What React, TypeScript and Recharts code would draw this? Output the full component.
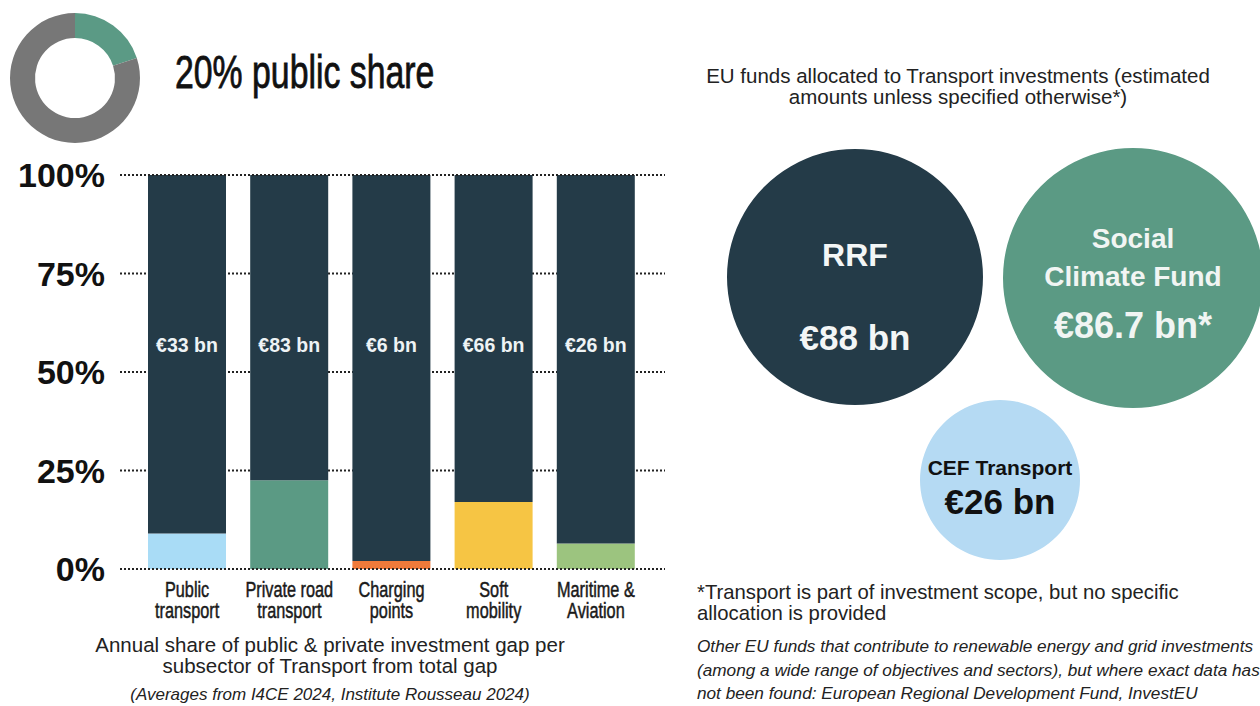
import React from 'react';
import { BarChart, Bar, XAxis, YAxis, CartesianGrid, ReferenceLine, LabelList, PieChart, Pie, Cell } from 'recharts';

const categories = ['Public transport', 'Private road transport', 'Charging points', 'Soft mobility', 'Maritime & Aviation'];
const categoryLines = [['Public', 'transport'], ['Private road', 'transport'], ['Charging', 'points'], ['Soft', 'mobility'], ['Maritime &', 'Aviation']];
const publicShare = [9, 22.5, 2, 17, 6.5];
const gapAmounts = ['€33 bn', '€83 bn', '€6 bn', '€66 bn', '€26 bn'];
const yTicks = [0, 25, 50, 75, 100];
const publicColors = ['#a9dcf6', '#5b9a84', '#ef7a3a', '#f6c544', '#9cc47f'];

const donutLabels = ['Public', 'Private'];
const donutValues = [20, 80];
const donutColors = ['#5b9a85', '#777777'];

const fundNames = [['RRF'], ['Social', 'Climate Fund'], ['CEF Transport']];
const fundAmounts = ['€88 bn', '€86.7 bn*', '€26 bn'];
const fundColors = ['#243b48', '#5b9a84', '#b5daf3'];

const DARK = '#243b48';
const SANS = '"Liberation Sans", Arial, sans-serif';

const barData = categories.map((c, i) => ({
  name: c,
  publicPart: publicShare[i],
  rest: 100 - publicShare[i],
  amount: gapAmounts[i],
}));

const donutData = donutLabels.map((n, i) => ({ name: n, value: donutValues[i] }));

const XTick = (props: any) => {
  const { x, y, index } = props;
  const lines = categoryLines[index] || [];
  return (
    <g transform={`translate(${x},${y}) scale(0.74,1)`}>
      <text x={0} y={0} textAnchor="middle" fill="#1a1a1a" stroke="#1a1a1a" strokeWidth={0.5} fontFamily={SANS} fontSize={22}>
        {lines.map((l, k) => (
          <tspan key={k} x={0} dy={k === 0 ? 20 : 21}>{l}</tspan>
        ))}
      </text>
    </g>
  );
};

const AmountLabel = (props: any) => {
  const { x, y, width, value } = props;
  return (
    <text x={x + width / 2} y={y + 170} textAnchor="middle" dominantBaseline="central" fill="#eef3f5" fontFamily={SANS} fontWeight={700} fontSize={19.5}>
      {value}
    </text>
  );
};

const fundLayouts = [
  { offsets: [-22], amountOffset: 60, nameSize: 32, amountSize: 35, color: '#f3f6f6' },
  { offsets: [-40, -2], amountOffset: 47, nameSize: 28, amountSize: 36, color: '#f1f5f3' },
  { offsets: [-13], amountOffset: 21, nameSize: 21, amountSize: 35, color: '#111111' },
];

const makeFundLabel = (fi: number) => (props: any) => {
  const { cx, cy } = props;
  const lay = fundLayouts[fi];
  return (
    <g>
      {fundNames[fi].map((n, k) => (
        <text key={k} x={cx} y={cy + lay.offsets[k]} textAnchor="middle" dominantBaseline="central" fill={lay.color} fontFamily={SANS} fontWeight={700} fontSize={lay.nameSize}>
          {n}
        </text>
      ))}
      <text x={cx} y={cy + lay.amountOffset} textAnchor="middle" dominantBaseline="central" fill={lay.color} fontFamily={SANS} fontWeight={700} fontSize={lay.amountSize}>
        {fundAmounts[fi]}
      </text>
    </g>
  );
};

const bubbleGeom = [
  { cx: 155, cy: 147, r: 128 },
  { cx: 433, cy: 148, r: 130 },
  { cx: 300, cy: 350, r: 80 },
];

export default function App() {
  return (
    <div style={{ position: 'absolute', left: 0, top: 0, width: 1260, height: 706, background: '#fff', overflow: 'hidden', fontFamily: SANS, color: '#222' }}>
      <div style={{ position: 'absolute', left: 0, top: 0 }}>
        <PieChart width={160} height={160} margin={{ top: 0, right: 0, bottom: 0, left: 0 }}>
          <Pie data={donutData} dataKey="value" cx={75} cy={78} innerRadius={40} outerRadius={65} startAngle={90} endAngle={-270} stroke="none" isAnimationActive={false}>
            {donutData.map((d, i) => <Cell key={i} fill={donutColors[i]} />)}
          </Pie>
        </PieChart>
      </div>
      <svg style={{ position: 'absolute', left: 160, top: 30 }} width={320} height={80}>
        <g transform="translate(15,58) scale(0.735,1)">
          <text x={0} y={0} fontFamily={SANS} fontSize={46} fill="#111" stroke="#111" strokeWidth={0.8}>20% public share</text>
        </g>
      </svg>

      <div style={{ position: 'absolute', left: 0, top: 0 }}>
        <BarChart width={680} height={640} data={barData} margin={{ top: 175, right: 15, bottom: 11, left: 10 }} barSize={78}>
          <CartesianGrid horizontal vertical={false} stroke="#222" strokeDasharray="2 2" strokeWidth={2} />
          <XAxis dataKey="name" axisLine={false} tickLine={false} height={60} interval={0} padding={{ left: 16, right: 18 }} tick={<XTick />} />
          <YAxis domain={[0, 100]} ticks={yTicks} tickFormatter={(v: number) => `${v}%`} axisLine={false} tickLine={false} tickSize={0} tickMargin={15} width={110} tick={{ fontSize: 34, fontWeight: 700, fill: '#111', fontFamily: SANS }} />
          <Bar dataKey="publicPart" stackId="a" isAnimationActive={false}>
            {barData.map((d, i) => <Cell key={i} fill={publicColors[i]} />)}
          </Bar>
          <Bar dataKey="rest" stackId="a" fill={DARK} isAnimationActive={false}>
            <LabelList dataKey="amount" content={<AmountLabel />} />
          </Bar>
          <ReferenceLine y={0} stroke="#222" strokeDasharray="2 2" strokeWidth={2} />
          <ReferenceLine y={100} stroke="#222" strokeDasharray="2 2" strokeWidth={2} />
        </BarChart>
      </div>

      <div style={{ position: 'absolute', left: 30, top: 634, width: 600, textAlign: 'center', fontSize: 20.5, lineHeight: '21px', color: '#222', whiteSpace: 'nowrap' }}>
        Annual share of public &amp; private investment gap per<br />subsector of Transport from total gap
      </div>
      <div style={{ position: 'absolute', left: 30, top: 685, width: 600, textAlign: 'center', fontSize: 17, lineHeight: '19px', fontStyle: 'italic', color: '#222', whiteSpace: 'nowrap' }}>
        (Averages from I4CE 2024, Institute Rousseau 2024)
      </div>

      <div style={{ position: 'absolute', left: 660, top: 65, width: 596, textAlign: 'center', fontSize: 20.5, lineHeight: '21px', color: '#222', whiteSpace: 'nowrap' }}>
        EU funds allocated to Transport investments (estimated<br />amounts unless specified otherwise*)
      </div>

      <div style={{ position: 'absolute', left: 700, top: 130 }}>
        <PieChart width={560} height={450} margin={{ top: 0, right: 0, bottom: 0, left: 0 }}>
          {bubbleGeom.map((g, i) => (
            <Pie key={i} data={[{ name: fundNames[i].join(' '), value: 1 }]} dataKey="value" cx={g.cx} cy={g.cy} innerRadius={0} outerRadius={g.r} startAngle={90} endAngle={-270} stroke="none" fill={fundColors[i]} labelLine={false} label={makeFundLabel(i)} isAnimationActive={false} />
          ))}
        </PieChart>
      </div>

      <div style={{ position: 'absolute', left: 697, top: 582, fontSize: 20.3, lineHeight: '21px', color: '#222', whiteSpace: 'nowrap' }}>
        *Transport is part of investment scope, but no specific<br />allocation is provided
      </div>
      <div style={{ position: 'absolute', left: 697, top: 635, fontSize: 17.2, lineHeight: '23.5px', fontStyle: 'italic', color: '#222', whiteSpace: 'nowrap' }}>
        Other EU funds that contribute to renewable energy and grid investments<br />(among a wide range of objectives and sectors), but where exact data has<br />not been found: European Regional Development Fund, InvestEU
      </div>
    </div>
  );
}
